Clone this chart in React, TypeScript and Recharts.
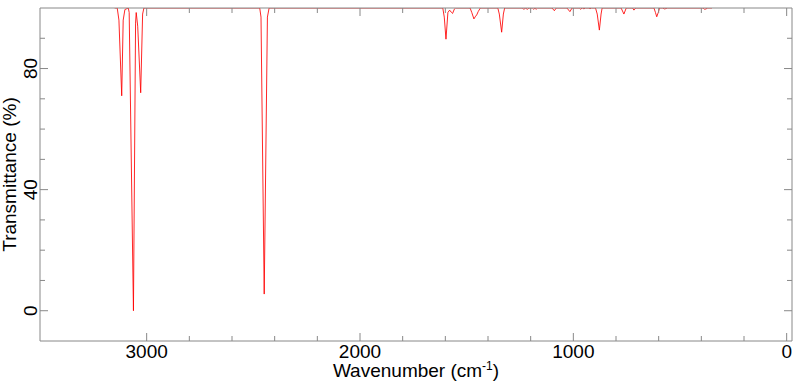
import { LineChart, Line, XAxis, YAxis, Label } from "recharts";

// IR spectrum
const wavenumber = [
  3150, 3138, 3130, 3117, 3110, 3102, 3086, 3082, 3062, 3052, 3049, 3042, 3028, 3019, 3013,
  2470, 2464, 2449, 2434, 2426,
  1612, 1605, 1597, 1588, 1580, 1572, 1566, 1558, 1552,
  1484, 1476, 1466, 1458, 1453, 1446, 1436,
  1354, 1347, 1336, 1328, 1322,
  1240, 1232, 1224, 1215, 1208, 1192, 1186, 1180, 1174, 1168,
  1100, 1089, 1080, 1030, 1016, 1006, 972, 966, 958, 950, 944, 926, 922, 916,
  896, 888, 878, 870, 865,
  776, 763, 752, 722, 716, 708,
  622, 615, 609, 602, 596, 580, 574, 566, 560,
  392, 385, 378, 370, 350,
];
const transmittance = [
  100, 100, 96, 71, 96, 99.5, 100, 98.5, 0, 95, 98.5, 94, 72, 98, 100,
  100, 97, 5.5, 97, 100,
  100, 97, 89.7, 98.5, 99.3, 98.6, 98.2, 99.6, 100,
  100, 98.5, 96.4, 97.3, 97.7, 98.8, 100,
  100, 98, 92, 98, 100,
  100, 99.6, 99.9, 99.6, 100, 100, 99.6, 99.9, 99.6, 100,
  100, 99.1, 100, 100, 98.8, 100, 100, 99.6, 100, 99.7, 100, 100, 99.7, 100,
  100, 98, 92.7, 98, 100,
  100, 98, 100, 100, 99.3, 100,
  100, 98.5, 97.1, 98.5, 100, 100, 99.7, 99.8, 100,
  100, 99.6, 99.7, 100, 100,
];

const xTicks = [0, 200, 400, 600, 800, 1000, 1200, 1400, 1600, 1800, 2000, 2200, 2400, 2600, 2800, 3000];
const xMajor = [0, 1000, 2000, 3000];
const yTicks = [0, 10, 20, 30, 40, 50, 60, 70, 80, 90];
const yMajor = [0, 40, 80];

const data = wavenumber.map((wn, i) => ({ wn, t: transmittance[i] }));

const AXIS = "#888";
const FONT = '"Liberation Sans", Arial, Helvetica, sans-serif';

function BottomTick({ x, y, payload }: any) {
  const major = xMajor.includes(payload.value);
  return (
    <g>
      <line x1={x} y1={y} x2={x} y2={y - (major ? 8 : 5)} stroke={AXIS} />
      {major && (
        <text x={x} y={y + 17} textAnchor="middle" fontSize={19} fontFamily={FONT} fill="#000">
          {payload.value}
        </text>
      )}
    </g>
  );
}

function TopTick({ x, y, payload }: any) {
  const major = xMajor.includes(payload.value);
  return <line x1={x} y1={y} x2={x} y2={y + (major ? 8 : 5)} stroke={AXIS} />;
}

function LeftTick({ x, y, payload }: any) {
  const major = yMajor.includes(payload.value);
  return (
    <g>
      <line x1={x} y1={y} x2={x + (major ? 8 : 5)} y2={y} stroke={AXIS} />
      {major && (
        <text
          x={x - 3}
          y={y}
          transform={`rotate(-90, ${x - 3}, ${y})`}
          textAnchor="middle"
          fontSize={19}
          fontFamily={FONT}
          fill="#000"
        >
          {payload.value}
        </text>
      )}
    </g>
  );
}

function RightTick({ x, y, payload }: any) {
  const major = yMajor.includes(payload.value);
  return <line x1={x} y1={y} x2={x - (major ? 8 : 5)} y2={y} stroke={AXIS} />;
}

function XTitle({ viewBox }: any) {
  const cx = viewBox.x + viewBox.width / 2;
  return (
    <text x={cx} y={viewBox.y + 36} textAnchor="middle" fontSize={19} fontFamily={FONT} fill="#000">
      Wavenumber (cm
      <tspan fontSize={12} dy={-7}>-1</tspan>
      <tspan dy={7}>)</tspan>
    </text>
  );
}

function YTitle({ viewBox }: any) {
  const x = viewBox.x + viewBox.width - 24;
  const y = viewBox.y + viewBox.height / 2;
  return (
    <text
      x={x}
      y={y}
      transform={`rotate(-90, ${x}, ${y})`}
      textAnchor="middle"
      fontSize={19}
      fontFamily={FONT}
      fill="#000"
    >
      Transmittance (%)
    </text>
  );
}

export default function App() {
  return (
    <div style={{ position: "absolute", left: 0, top: 0, background: "#fff" }}>
      <LineChart width={800} height={381} data={data} margin={{ top: 7, right: 7, bottom: 39, left: 39 }}>
        <XAxis
          xAxisId="bottom"
          type="number"
          dataKey="wn"
          domain={[-25, 3500]}
          allowDataOverflow
          reversed
          ticks={xTicks}
          interval={0}
          height={1}
          tickSize={0}
          tickMargin={0}
          tickLine={false}
          tick={<BottomTick />}
          axisLine={{ stroke: AXIS }}
        >
          <Label content={<XTitle />} />
        </XAxis>
        <XAxis
          xAxisId="top"
          orientation="top"
          type="number"
          dataKey="wn"
          domain={[-25, 3500]}
          allowDataOverflow
          reversed
          ticks={xTicks}
          interval={0}
          height={1}
          tickSize={0}
          tickMargin={0}
          tickLine={false}
          tick={<TopTick />}
          axisLine={{ stroke: AXIS }}
        />
        <YAxis
          yAxisId="left"
          type="number"
          domain={[-10, 100]}
          allowDataOverflow
          ticks={yTicks}
          interval={0}
          width={1}
          tickSize={0}
          tickMargin={0}
          tickLine={false}
          tick={<LeftTick />}
          axisLine={{ stroke: AXIS }}
        >
          <Label content={<YTitle />} />
        </YAxis>
        <YAxis
          yAxisId="right"
          orientation="right"
          type="number"
          domain={[-10, 100]}
          allowDataOverflow
          ticks={yTicks}
          interval={0}
          width={1}
          tickSize={0}
          tickMargin={0}
          tickLine={false}
          tick={<RightTick />}
          axisLine={{ stroke: AXIS }}
        />
        <Line
          xAxisId="bottom"
          yAxisId="left"
          type="linear"
          dataKey="t"
          stroke="#ff0000"
          strokeWidth={1}
          strokeOpacity={0.85}
          dot={false}
          isAnimationActive={false}
        />
      </LineChart>
    </div>
  );
}
